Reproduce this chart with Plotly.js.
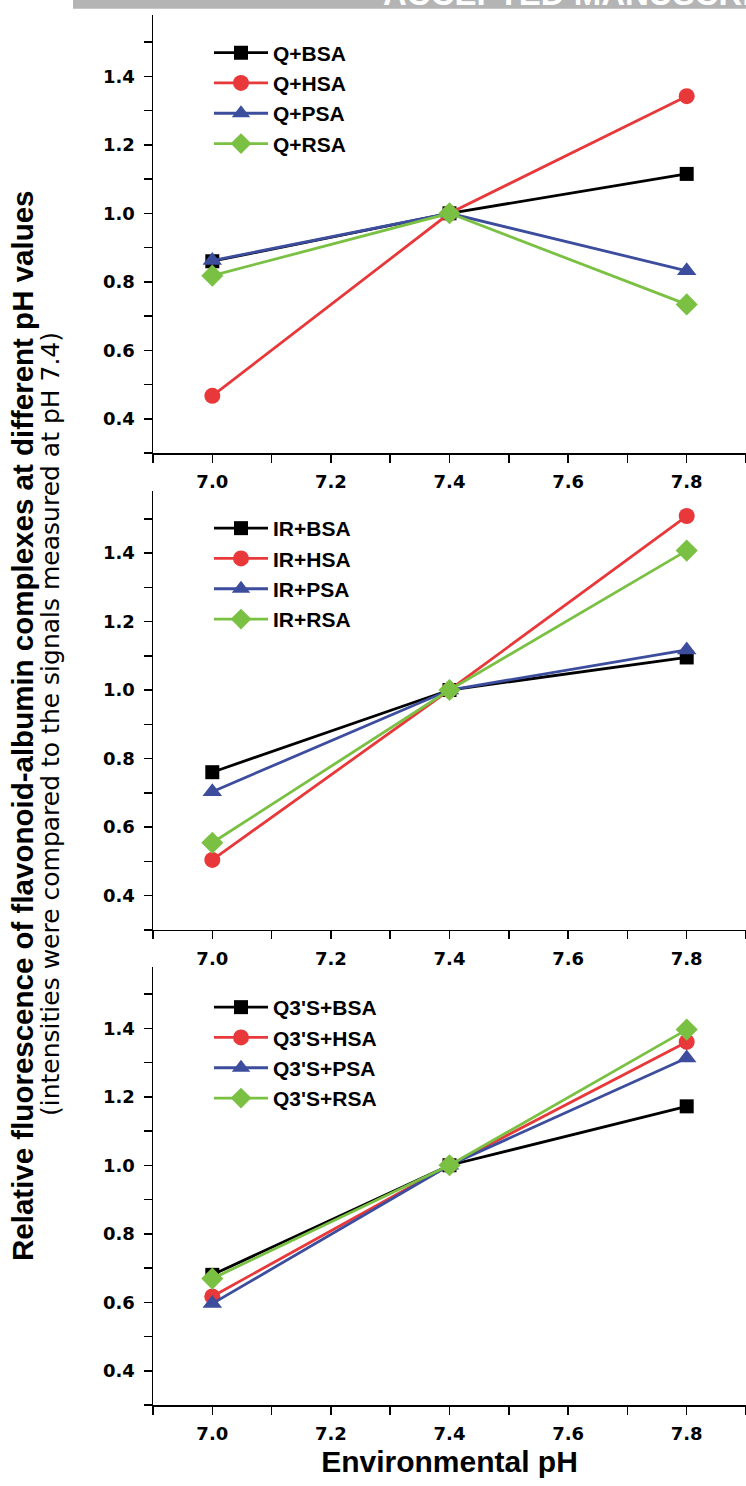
<!DOCTYPE html>
<html>
<head>
<meta charset="utf-8">
<script src="https://cdn.plot.ly/plotly-3.0.1.min.js"></script>
<style>
  html, body { margin: 0; padding: 0; background: #ffffff; }
  #chart { width: 746px; height: 1486px; }
</style>
</head>
<body>
<div id="chart"></div>
<script>
// ---------------- data ----------------
const pH = [7.0, 7.4, 7.8];

const qLabels   = ["Q+BSA", "Q+HSA", "Q+PSA", "Q+RSA"];
const qBSA = [0.860, 1.0, 1.115];
const qHSA = [0.467, 1.0, 1.342];
const qPSA = [0.862, 1.0, 0.832];
const qRSA = [0.818, 1.0, 0.734];

const irLabels  = ["IR+BSA", "IR+HSA", "IR+PSA", "IR+RSA"];
const irBSA = [0.760, 1.0, 1.095];
const irHSA = [0.504, 1.0, 1.508];
const irPSA = [0.703, 1.0, 1.117];
const irRSA = [0.554, 1.0, 1.407];

const q3sLabels = ["Q3'S+BSA", "Q3'S+HSA", "Q3'S+PSA", "Q3'S+RSA"];
const q3sBSA = [0.680, 1.0, 1.172];
const q3sHSA = [0.617, 1.0, 1.360];
const q3sPSA = [0.596, 1.0, 1.313];
const q3sRSA = [0.669, 1.0, 1.396];

const xTickVals = [7.0, 7.2, 7.4, 7.6, 7.8];
const yTickVals = [0.4, 0.6, 0.8, 1.0, 1.2, 1.4];

const yTitle1 = "Relative fluorescence of flavonoid-albumin complexes at different pH values";
const yTitle2 = "(intensities were compared to the signals measured at pH 7.4)";
const xTitle  = "Environmental pH";
const banner  = "ACCEPTED MANUSCRIPT";

// ---------------- styling / geometry ----------------
const W = 746, H = 1486;
const M = {l: 153, r: 0, t: 14, b: 81};
const plotW = W - M.l - M.r, plotH = H - M.t - M.b;
const yRange = [0.3, 1.58], xRange = [6.9, 7.9];
const pxPerUnit = 342.5;
// pixel row of y=1.0 for each panel
const centers = [213.3, 690, H - M.b - (1 - yRange[0]) * pxPerUnit];
function px2x(px) { return (px - M.l) / plotW; }
function py2y(py) { return (H - M.b - py) / plotH; }
function domainFor(c) {
  const top = c - (yRange[1] - 1) * pxPerUnit;
  const bot = c + (1 - yRange[0]) * pxPerUnit;
  return [Math.max(0, py2y(bot)), Math.min(1, py2y(top))];
}

const colors = ["#000000", "#e8383a", "#3c4d9e", "#7ac143"];
const symbols = ["square", "circle", "triangle-up", "diamond"];
const sizes = [14, 16, 17, 17];

const panels = [
  {labels: qLabels,   series: [qBSA, qHSA, qPSA, qRSA]},
  {labels: irLabels,  series: [irBSA, irHSA, irPSA, irRSA]},
  {labels: q3sLabels, series: [q3sBSA, q3sHSA, q3sPSA, q3sRSA]}
];

const traces = [];
panels.forEach((p, pi) => {
  const suf = pi === 0 ? "" : String(pi + 1);
  p.series.forEach((ys, si) => {
    traces.push({
      type: "scatter", mode: "lines+markers",
      x: pH, y: ys, name: p.labels[si],
      xaxis: "x" + suf, yaxis: "y" + suf,
      legend: "legend" + suf,
      line: {color: colors[si], width: 2.8},
      marker: {symbol: symbols[si], size: sizes[si], color: colors[si], line: {width: 0}},
      cliponaxis: false
    });
  });
});

const tickFont = {family: "DejaVu Sans", size: 18, weight: "bold", color: "#000"};
function xAxis(pi) {
  const suf = pi === 0 ? "" : String(pi + 1);
  return {
    range: xRange, anchor: "y" + suf, domain: [0, 1],
    tickvals: xTickVals, ticktext: xTickVals.map(v => v.toFixed(1)),
    ticks: "outside", ticklen: 8, tickwidth: 1.5, tickcolor: "#000",
    minor: {dtick: 0.1, tick0: 6.9, ticks: "outside", ticklen: 8, tickwidth: 1.5, tickcolor: "#000"},
    showline: true, linecolor: "#000", linewidth: 1.5,
    showgrid: false, zeroline: false, tickfont: tickFont, ticklabelstandoff: 4,
    fixedrange: true
  };
}
function yAxis(pi) {
  const suf = pi === 0 ? "" : String(pi + 1);
  return {
    range: yRange, anchor: "x" + suf, domain: domainFor(centers[pi]),
    tickvals: yTickVals, ticktext: yTickVals.map(v => v.toFixed(1)),
    ticks: "outside", ticklen: 8, tickwidth: 1.5, tickcolor: "#000",
    minor: {dtick: 0.1, tick0: 0.3, ticks: "outside", ticklen: 8, tickwidth: 1.5, tickcolor: "#000"},
    showline: true, linecolor: "#000", linewidth: 1.5,
    showgrid: false, zeroline: false, tickfont: tickFont, ticklabelstandoff: 5,
    fixedrange: true
  };
}
const legendFirstRow = [52.5, 528, 1007];
function legendFor(pi) {
  return {
    x: px2x(209), xanchor: "left",
    y: py2y(legendFirstRow[pi] - 20), yanchor: "top",
    bgcolor: "rgba(0,0,0,0)", borderwidth: 0,
    font: {family: "Liberation Sans, Arial, sans-serif", size: 21, weight: "bold", color: "#000"},
    itemwidth: 54, tracegroupgap: 0, orientation: "v"
  };
}

const layout = {
  width: W, height: H,
  margin: M,
  paper_bgcolor: "#ffffff", plot_bgcolor: "rgba(0,0,0,0)",
  showlegend: true,
  xaxis: xAxis(0), yaxis: yAxis(0),
  xaxis2: xAxis(1), yaxis2: yAxis(1),
  xaxis3: Object.assign(xAxis(2), {
    title: {text: xTitle, font: {family: "Liberation Sans, Arial, sans-serif", size: 30, weight: "bold", color: "#000"}, standoff: 8}
  }),
  yaxis3: yAxis(2),
  legend: legendFor(0), legend2: legendFor(1), legend3: legendFor(2),
  shapes: [{
    type: "rect", xref: "paper", yref: "paper", layer: "below",
    x0: px2x(73), x1: px2x(W), y0: py2y(8.7), y1: py2y(0),
    fillcolor: "#b4b4b4", line: {width: 0}
  }],
  annotations: [
    {text: "<b>" + yTitle1 + "</b>", textangle: -90, xref: "paper", yref: "paper",
     x: px2x(22), y: py2y(726), xanchor: "center", yanchor: "middle", showarrow: false,
     font: {family: "Liberation Sans, Arial, sans-serif", size: 29.5, color: "#000"}},
    {text: yTitle2, textangle: -90, xref: "paper", yref: "paper",
     x: px2x(50), y: py2y(724), xanchor: "center", yanchor: "middle", showarrow: false,
     font: {family: "DejaVu Sans", size: 25, color: "#000"}},
    {text: "<b>" + banner + "</b>", xref: "paper", yref: "paper",
     x: px2x(381), y: py2y(14), xanchor: "left", yanchor: "bottom", showarrow: false,
     font: {family: "Liberation Sans, Arial, sans-serif", size: 33, color: "#ffffff"}}
  ]
};

Plotly.newPlot("chart", traces, layout, {displayModeBar: false, staticPlot: true});
</script>
</body>
</html>
